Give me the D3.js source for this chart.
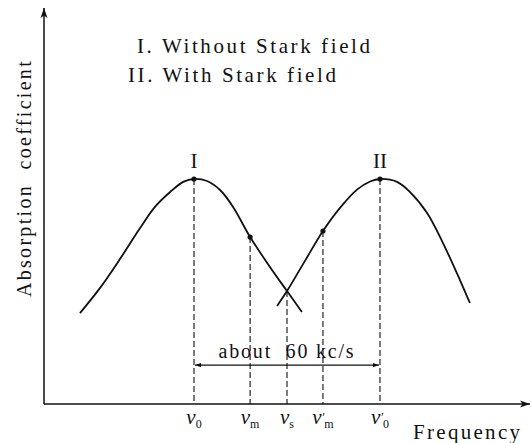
<!DOCTYPE html>
<html>
<head>
<meta charset="utf-8">
<script src="https://cdn.jsdelivr.net/npm/d3@7"></script>
<style>
  body { margin: 0; background: #fff; }
  text { font-family: "Liberation Serif", "Times New Roman", serif; fill: #111; }
</style>
</head>
<body>
<div id="chart"></div>
<script>
// frequency offset from nu0 (kc/s) and relative absorption
const curveIx = [-36.8, -30.3, -23.9, -17.4, -12.6, -7.7, -3.5, 0, 4.2, 8.4, 12.6, 18.1, 24.5, 30.0, 34.8]
const curveIy = [0.404, 0.516, 0.644, 0.782, 0.876, 0.942, 0.987, 1.0, 0.991, 0.951, 0.876, 0.742, 0.609, 0.502, 0.409]

const curveIIx = [26.8, 30.0, 35.8, 41.6, 47.1, 52.6, 56.8, 60, 65.5, 69.7, 75.2, 80.3, 85.8, 89.0]
const curveIIy = [0.436, 0.502, 0.636, 0.769, 0.872, 0.953, 0.989, 1.0, 0.987, 0.942, 0.849, 0.716, 0.551, 0.449]

// marked frequencies
const markSub = ['0', 'm', 's', 'm', '0']
const markPrime = [false, false, false, true, true]
const markX = [0, 18.1, 30, 41.6, 60]
const markY = [1.0, 0.742, 0.502, 0.769, 1.0]
const markDot = [true, true, false, true, true]

const peakLabels = ['I', 'II']
const peakX = [0, 60]

const legendLines = ['I. Without Stark field', 'II. With Stark field']
const spanText = 'about  60 kc/s'
const spanFrom = 0
const spanTo = 60
const spanY = 0.173

const width = 532
const height = 443

const svg = d3
  .select('#chart')
  .append('svg')
  .attr('width', width)
  .attr('height', height)

const x = d3.scaleLinear().domain([-48.4, 108.4]).range([44, 530])
const y = d3.scaleLinear().domain([0, 1.76]).range([404, 8])

const defs = svg.append('defs')
defs
  .append('marker')
  .attr('id', 'axis-arrow')
  .attr('markerUnits', 'userSpaceOnUse')
  .attr('viewBox', '0 -4 10 8')
  .attr('refX', 10)
  .attr('refY', 0)
  .attr('markerWidth', 10)
  .attr('markerHeight', 8)
  .attr('orient', 'auto')
  .append('path')
  .attr('d', 'M0,-3.5L10,0L0,3.5L2.5,0Z')
  .attr('fill', '#111')

defs
  .append('marker')
  .attr('id', 'span-arrow')
  .attr('markerUnits', 'userSpaceOnUse')
  .attr('viewBox', '0 -3 6 6')
  .attr('refX', 6)
  .attr('refY', 0)
  .attr('markerWidth', 6)
  .attr('markerHeight', 6)
  .attr('orient', 'auto-start-reverse')
  .append('path')
  .attr('d', 'M0,-2.2L6,0L0,2.2Z')
  .attr('fill', '#111')

// axes
const x0 = x.domain()[0]
svg
  .append('line')
  .attr('x1', x(x0))
  .attr('y1', y(0))
  .attr('x2', x(x.domain()[1]))
  .attr('y2', y(0))
  .attr('stroke', '#111')
  .attr('stroke-width', 1.5)
  .attr('marker-end', 'url(#axis-arrow)')

svg
  .append('line')
  .attr('x1', x(x0))
  .attr('y1', y(0))
  .attr('x2', x(x0))
  .attr('y2', y(y.domain()[1]))
  .attr('stroke', '#111')
  .attr('stroke-width', 1.5)
  .attr('marker-end', 'url(#axis-arrow)')

// dashed drop lines
svg
  .selectAll('.drop')
  .data(markX)
  .enter()
  .append('line')
  .attr('class', 'drop')
  .attr('x1', d => x(d))
  .attr('x2', d => x(d))
  .attr('y1', (d, i) => y(markY[i]))
  .attr('y2', y(0))
  .attr('stroke', '#111')
  .attr('stroke-width', 1.1)
  .attr('stroke-dasharray', '6,3')

// absorption curves
const line = d3
  .line()
  .x(d => x(d[0]))
  .y(d => y(d[1]))
  .curve(d3.curveCatmullRom.alpha(0.5))

const curves = [d3.zip(curveIx, curveIy), d3.zip(curveIIx, curveIIy)]

svg
  .selectAll('.curve')
  .data(curves)
  .enter()
  .append('path')
  .attr('class', 'curve')
  .attr('d', line)
  .attr('fill', 'none')
  .attr('stroke', '#111')
  .attr('stroke-width', 1.8)

svg
  .selectAll('.dot')
  .data(markX.filter((d, i) => markDot[i]))
  .enter()
  .append('circle')
  .attr('class', 'dot')
  .attr('cx', d => x(d))
  .attr('cy', d => y(markY[markX.indexOf(d)]))
  .attr('r', 2.6)
  .attr('fill', '#111')

// peak labels
svg
  .selectAll('.peak')
  .data(peakLabels)
  .enter()
  .append('text')
  .attr('class', 'peak')
  .attr('x', (d, i) => x(peakX[i]))
  .attr('y', y(1) - 11)
  .attr('text-anchor', 'middle')
  .attr('font-size', 21)
  .text(d => d)

// 60 kc/s span
svg
  .append('line')
  .attr('x1', x(spanFrom) + 1)
  .attr('x2', x(spanTo) - 1)
  .attr('y1', y(spanY))
  .attr('y2', y(spanY))
  .attr('stroke', '#111')
  .attr('stroke-width', 1.1)
  .attr('marker-start', 'url(#span-arrow)')
  .attr('marker-end', 'url(#span-arrow)')

svg
  .append('text')
  .attr('x', x((spanFrom + spanTo) / 2))
  .attr('y', y(spanY) - 7)
  .attr('text-anchor', 'middle')
  .attr('font-size', 20)
  .attr('letter-spacing', 1.8)
  .style('white-space', 'pre')
  .text(spanText)

// tick labels nu with subscripts
svg
  .selectAll('.nu')
  .data(markX)
  .enter()
  .append('text')
  .attr('class', 'nu')
  .attr('x', d => x(d))
  .attr('y', y(0) + 20)
  .attr('text-anchor', 'middle')
  .attr('font-size', 21)
  .attr('font-style', 'italic')
  .each(function(d, i) {
    const t = d3.select(this)
    t.append('tspan').text('ν')
    if (markPrime[i]) {
      t.append('tspan').attr('font-size', 13).attr('dy', -3).text('′')
      t.append('tspan')
        .attr('font-size', 12)
        .attr('font-style', 'normal')
        .attr('dy', 7)
        .text(markSub[i])
    } else {
      t.append('tspan')
        .attr('font-size', 12)
        .attr('font-style', 'normal')
        .attr('dy', 4)
        .text(markSub[i])
    }
  })

// axis titles
svg
  .append('text')
  .attr('x', 413)
  .attr('y', 439)
  .attr('font-size', 21)
  .attr('letter-spacing', 2.3)
  .text('Frequency')

svg
  .append('text')
  .attr('transform', 'translate(31,178) rotate(-90)')
  .attr('text-anchor', 'middle')
  .attr('font-size', 20)
  .attr('letter-spacing', 2.3)
  .style('white-space', 'pre')
  .text('Absorption  coefficient')

// legend
svg
  .selectAll('.legend')
  .data(legendLines)
  .enter()
  .append('text')
  .attr('class', 'legend')
  .attr('x', (d, i) => (i === 0 ? 137 : 128))
  .attr('y', (d, i) => 53 + i * 29)
  .attr('font-size', 21)
  .attr('letter-spacing', 2.6)
  .text(d => d)
</script>
</body>
</html>
